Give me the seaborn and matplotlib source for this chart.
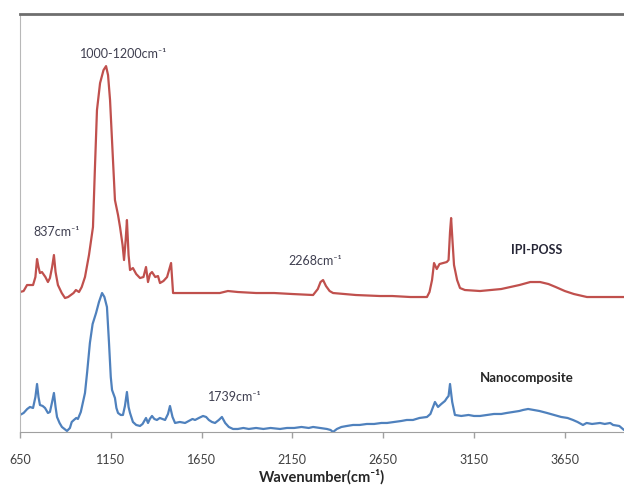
import numpy as np
import pandas as pd
import matplotlib
matplotlib.use("Agg")
import matplotlib.pyplot as plt
import seaborn as sns

# ---- data (wavenumber, offset intensity) ----
ipi_wn = [650, 670, 689, 722, 735, 744, 752, 760, 771, 790, 804, 815, 827, 837, 846,
          859, 880, 898, 915, 930, 945, 958, 975, 990, 1008, 1030, 1052, 1062, 1074,
          1091, 1110, 1124, 1135, 1146, 1160, 1173, 1190, 1201, 1215, 1223, 1232, 1239,
          1248, 1256, 1272, 1290, 1311, 1330, 1344, 1355, 1366, 1377, 1395, 1410, 1421,
          1440, 1460, 1482, 1493, 1550, 1650, 1750, 1795, 1850, 1950, 2050, 2150, 2264,
          2290, 2305, 2319, 2335, 2355, 2374, 2500, 2632, 2700, 2800, 2891, 2905, 2919,
          2930, 2945, 2960, 2980, 3000, 3010, 3018, 3024, 3032, 3040, 3057, 3073, 3100,
          3183, 3300, 3400, 3460, 3514, 3560, 3600, 3650, 3700, 3772, 3850, 3976]
ipi_abs = [140, 141, 147, 147, 155, 173, 165, 159, 160, 155, 150, 154, 165, 177, 160,
           147, 139, 134, 135, 137, 139, 142, 140, 145, 155, 177, 205, 260, 322,
           349, 362, 366, 357, 332, 280, 232, 217, 205, 187, 172, 192, 212,
           177, 162, 164, 158, 154, 155, 165, 150, 158, 160, 155, 156, 149,
           151, 155, 169, 139, 139, 139, 139, 141, 140, 139, 139, 138, 137,
           143, 150, 152, 146, 141, 139, 137, 136, 136, 135, 135, 140, 152,
           169, 163, 168, 169, 170, 172, 200, 214, 190, 167, 152, 144, 142,
           141, 143, 147, 150, 150, 148, 145, 141, 138, 135, 135, 135]

nano_wn = [650, 670, 690, 705, 722, 735, 744, 752, 760, 775, 788, 804, 815, 827, 837,
           846, 854, 868, 881, 895, 909, 925, 935, 947, 960, 969, 985, 1008, 1020, 1035,
           1050, 1069, 1085, 1102, 1115, 1129, 1140, 1150, 1157, 1173, 1181, 1190, 1205,
           1217, 1228, 1239, 1248, 1256, 1272, 1290, 1311, 1325, 1344, 1355, 1365, 1377,
           1390, 1404, 1420, 1435, 1449, 1465, 1476, 1490, 1504, 1530, 1559, 1580, 1600,
           1614, 1635, 1658, 1675, 1690, 1707, 1724, 1745, 1762, 1780, 1800, 1823, 1850,
           1880, 1910, 1950, 1990, 2030, 2082, 2120, 2160, 2200, 2240, 2264, 2300, 2340,
           2360, 2374, 2395, 2420, 2450, 2484, 2520, 2560, 2600, 2640, 2671, 2710, 2750,
           2780, 2814, 2850, 2891, 2910, 2935, 2952, 2970, 2990, 3001, 3010, 3018, 3030,
           3045, 3080, 3120, 3150, 3183, 3220, 3260, 3300, 3330, 3365, 3400, 3420, 3448,
           3480, 3510, 3552, 3590, 3630, 3665, 3695, 3720, 3750, 3770, 3800, 3844, 3870,
           3900, 3916, 3950, 3976]
nano_abs = [17, 19, 23, 25, 24, 35, 48, 35, 27, 26, 24, 19, 20, 30, 39,
            25, 15, 9, 5, 3, 1, 4, 10, 12, 14, 13, 20, 39, 60, 89,
            108, 119, 130, 139, 135, 125, 90, 55, 42, 34, 24, 19, 17,
            17, 26, 40, 25, 19, 10, 7, 6, 8, 14, 9, 13, 16,
            13, 12, 14, 13, 12, 18, 26, 15, 9, 10, 9, 11, 13,
            12, 14, 16, 15, 12, 10, 9, 12, 15, 9, 5, 3, 3,
            4, 3, 4, 3, 4, 3, 4, 4, 5, 4, 5, 4, 3,
            2, 0, 3, 5, 6, 7, 7, 8, 8, 9, 9, 10, 11,
            12, 12, 14, 15, 18, 30, 25, 28, 31, 34, 36, 48, 30,
            17, 16, 17, 16, 16, 17, 18, 18, 19, 20, 21, 22, 23,
            22, 21, 19, 17, 15, 14, 12, 10, 7, 9, 8, 9, 8,
            9, 7, 6, 2]

x_ticks = [650, 1150, 1650, 2150, 2650, 3150, 3650]

df = pd.concat([
    pd.DataFrame({"wn": ipi_wn, "abs": ipi_abs, "sample": "IPI-POSS"}),
    pd.DataFrame({"wn": nano_wn, "abs": nano_abs, "sample": "Nanocomposite"}),
])

sns.set_style("white")
plt.rcParams['font.family'] = ['Lato', 'DejaVu Sans']

fig = plt.figure(figsize=(6.24, 4.87), dpi=100)
ax = fig.add_axes([0.032, 0.113, 0.968, 0.858])

sns.lineplot(data=df, x="wn", y="abs", hue="sample", estimator=None, sort=True,
             palette={"IPI-POSS": "#C0504D", "Nanocomposite": "#4F81BD"},
             linewidth=1.6, legend=False, ax=ax)

ax.set_xlim(650, 3976)
ax.set_ylim(0, 418)
ax.set_xticks(x_ticks)
ax.set_xticklabels([str(t) for t in x_ticks], fontsize=9, color="#404040")
ax.set_yticks([])
ax.tick_params(axis="x", direction="out", length=4, width=1, color="#a0a0a0", pad=12,
               bottom=True)
ax.set_ylabel("")
ax.set_xlabel("Wavenumber(cm⁻¹)", fontsize=10.5, fontweight="bold", color="#262626",
              labelpad=2)

ax.spines["right"].set_visible(False)
ax.spines["left"].set_color("#b8b8b8")
ax.spines["bottom"].set_color("#a0a0a0")
ax.spines["top"].set_color("#6e6e6e")
ax.spines["top"].set_linewidth(2)

ann = "#3f3f50"
ax.text(1223, 378, "1000-1200cm⁻¹", fontsize=9, color=ann, ha="center", va="center")
ax.text(854, 200, "837cm⁻¹", fontsize=9, color=ann, ha="center", va="center")
ax.text(2275, 171, "2268cm⁻¹", fontsize=9, color=ann, ha="center", va="center")
ax.text(1834, 35, "1739cm⁻¹", fontsize=9, color=ann, ha="center", va="center")
ax.text(3497, 182, "IPI-POSS", fontsize=9, fontweight="bold", color="#262636",
        ha="center", va="center")
ax.text(3442, 54, "Nanocomposite", fontsize=9.5, fontweight="bold", color="#262626",
        ha="center", va="center")

fig.savefig("out.png", dpi=100)
